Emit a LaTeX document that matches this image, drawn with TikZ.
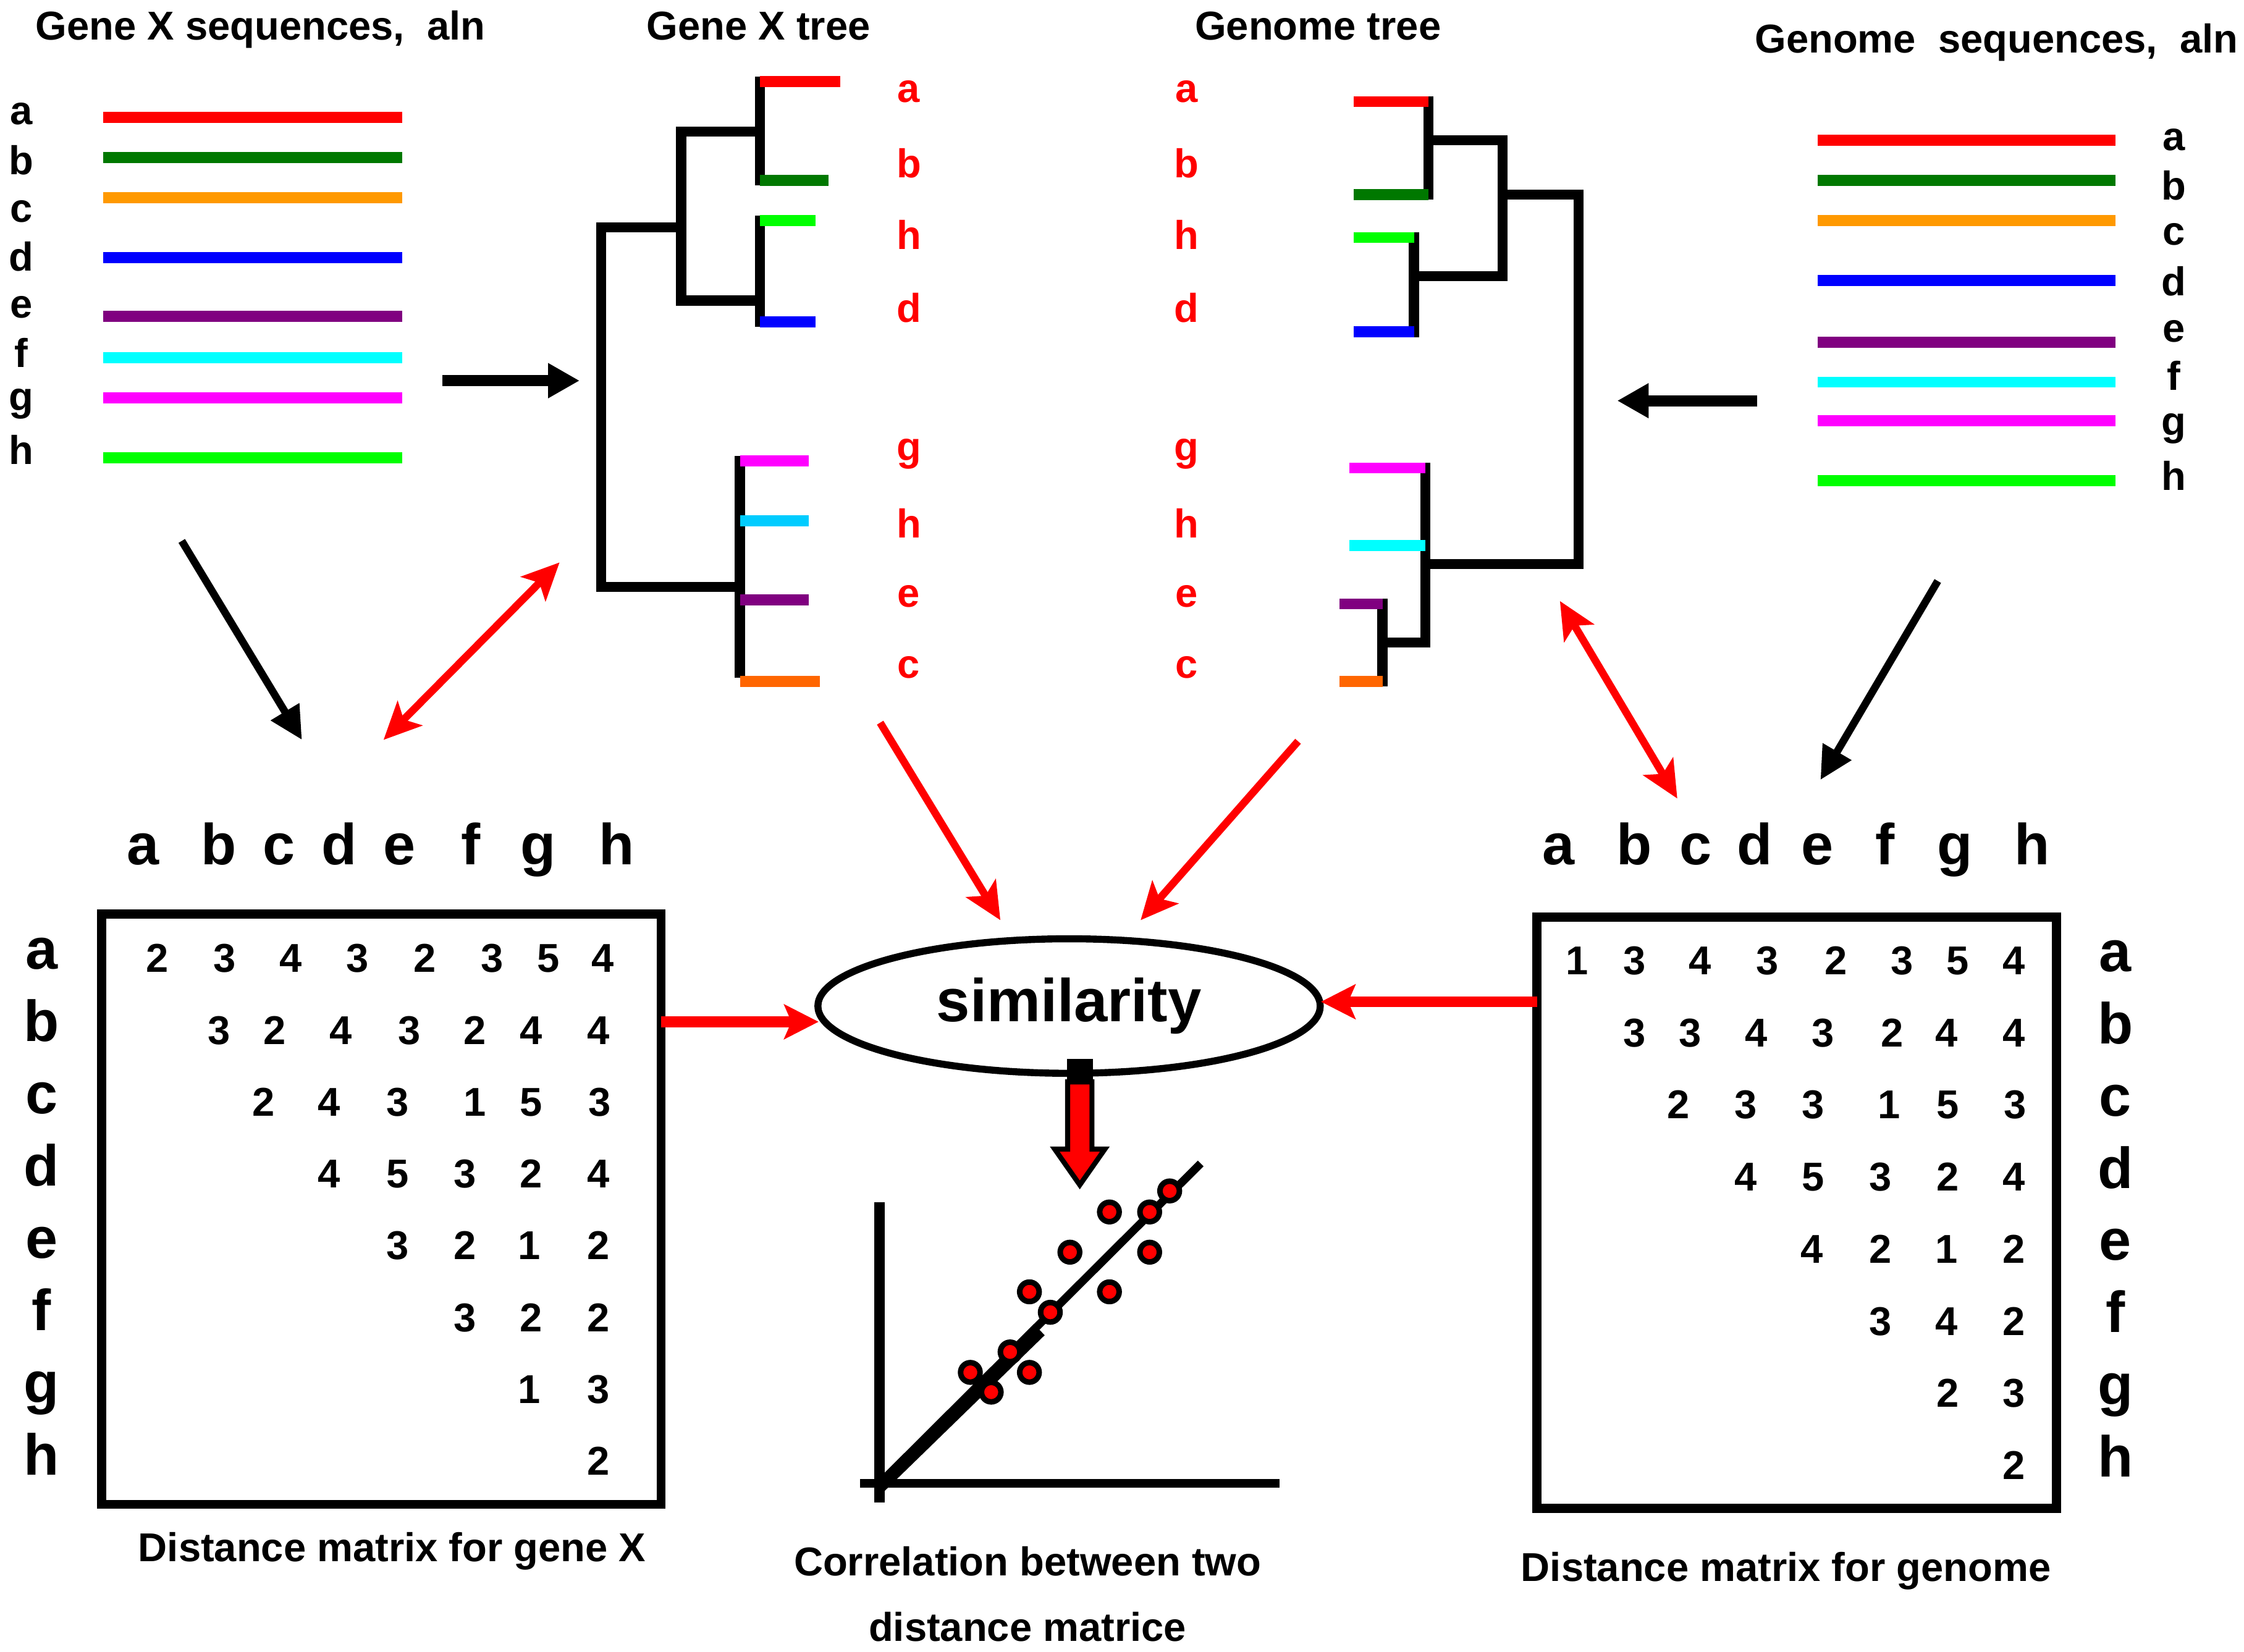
\documentclass[tikz,border=0pt]{standalone}
\usepackage{fontspec}
\setmainfont{Liberation Sans}
\usetikzlibrary{arrows.meta,shapes.geometric}
\definecolor{seqgreen}{RGB}{0,120,0}
\definecolor{seqorange}{RGB}{255,153,0}
\definecolor{seqpurple}{RGB}{128,0,128}
\definecolor{seqlime}{RGB}{0,255,0}
\definecolor{seqcyan}{RGB}{0,255,255}
\definecolor{seqmagenta}{RGB}{255,0,255}
\definecolor{seqblue}{RGB}{0,0,255}
\definecolor{seqred}{RGB}{255,0,0}
\definecolor{treecyan}{RGB}{0,204,255}
\definecolor{treeorange}{RGB}{255,102,0}

\begin{document}
\begin{tikzpicture}[
  ttl/.style={anchor=base, font=\fontsize{8}{9.6}\selectfont\bfseries},
  sq/.style={anchor=base, font=\fontsize{8}{9.6}\selectfont\bfseries},
  tl/.style={anchor=base, text=seqred, font=\fontsize{8}{9.6}\selectfont\bfseries},
  ml/.style={anchor=base, font=\fontsize{11.5}{13.8}\selectfont\bfseries},
  num/.style={anchor=base, font=\fontsize{8}{9.6}\selectfont\bfseries},
  cpt/.style={anchor=base, font=\fontsize{8}{9.6}\selectfont\bfseries},
  seq/.style={line width=2.2pt},
  br/.style={line width=2pt, line cap=rect},
  blk/.style={line width=2.2pt, -{Triangle[length=2.2mm,width=2.3mm]}},
  blkd/.style={line width=1.5pt, -{Triangle[length=2.3mm,width=2.2mm]}},
  rarr/.style={seqred, line width=1.5pt, -{Stealth[length=2.6mm,width=2.4mm,inset=0.6mm]}},
  rdbl/.style={seqred, line width=1.5pt, {Stealth[length=2.6mm,width=2.4mm,inset=0.6mm]}-{Stealth[length=2.6mm,width=2.4mm,inset=0.6mm]}},
  rthk/.style={seqred, line width=2.2pt, -{Stealth[length=2.4mm,width=2.4mm,inset=0.5mm]}},
  box/.style={draw, line width=1.8pt, inner sep=0pt, outer sep=0pt},
  simnode/.style={ellipse, draw, line width=1.4pt, minimum width=3.51cm, minimum height=0.94cm, inner sep=0pt, font=\fontsize{12}{14}\selectfont\bfseries},
  dot/.style={fill=seqred, draw=black, line width=1.1pt}
]
\useasboundingbox (0,0) rectangle (15.68,-11.54);

% titles
\node[ttl] (t1) at (1.82,-0.28) {Gene X sequences,\ \ aln};
\node[ttl] (t2) at (5.30,-0.28) {Gene X tree};
\node[ttl] (t3) at (9.21,-0.28) {Genome tree};
\node[ttl] (t4) at (13.95,-0.37) {Genome\ \ sequences,\ \ aln};

% gene X alignment
\node[sq] (la) at (0.15,-0.87) {a};
\node[sq] (lb) at (0.15,-1.22) {b};
\node[sq] (lc) at (0.15,-1.55) {c};
\node[sq] (ld) at (0.15,-1.895) {d};
\node[sq] (le) at (0.15,-2.22) {e};
\node[sq] (lf) at (0.15,-2.565) {f};
\node[sq] (lg) at (0.15,-2.87) {g};
\node[sq] (lh) at (0.15,-3.245) {h};
\draw[seq, seqred] (0.72,-0.82) -- (2.81,-0.82);
\draw[seq, seqgreen] (0.72,-1.10) -- (2.81,-1.10);
\draw[seq, seqorange] (0.72,-1.38) -- (2.81,-1.38);
\draw[seq, seqblue] (0.72,-1.80) -- (2.81,-1.80);
\draw[seq, seqpurple] (0.72,-2.21) -- (2.81,-2.21);
\draw[seq, seqcyan] (0.72,-2.50) -- (2.81,-2.50);
\draw[seq, seqmagenta] (0.72,-2.78) -- (2.81,-2.78);
\draw[seq, seqlime] (0.72,-3.20) -- (2.81,-3.20);

% genome alignment
\node[sq] (ra) at (15.19,-1.05) {a};
\node[sq] (rb) at (15.19,-1.395) {b};
\node[sq] (rc) at (15.19,-1.71) {c};
\node[sq] (rd) at (15.19,-2.065) {d};
\node[sq] (re) at (15.19,-2.39) {e};
\node[sq] (rf) at (15.19,-2.725) {f};
\node[sq] (rg) at (15.19,-3.04) {g};
\node[sq] (rh) at (15.19,-3.425) {h};
\draw[seq, seqred] (12.70,-0.98) -- (14.78,-0.98);
\draw[seq, seqgreen] (12.70,-1.26) -- (14.78,-1.26);
\draw[seq, seqorange] (12.70,-1.54) -- (14.78,-1.54);
\draw[seq, seqblue] (12.70,-1.96) -- (14.78,-1.96);
\draw[seq, seqpurple] (12.70,-2.39) -- (14.78,-2.39);
\draw[seq, seqcyan] (12.70,-2.67) -- (14.78,-2.67);
\draw[seq, seqmagenta] (12.70,-2.94) -- (14.78,-2.94);
\draw[seq, seqlime] (12.70,-3.36) -- (14.78,-3.36);

% gene X tree
\draw[br] (5.31,-0.57) -- (5.31,-1.26);
\draw[br] (4.76,-0.92) -- (5.31,-0.92);
\draw[br] (5.31,-1.54) -- (5.31,-2.25);
\draw[br] (4.76,-2.10) -- (5.31,-2.10);
\draw[br] (4.76,-0.92) -- (4.76,-2.10);
\draw[br] (4.20,-1.59) -- (4.76,-1.59);
\draw[br] (4.20,-1.59) -- (4.20,-4.10);
\draw[br] (4.20,-4.10) -- (5.17,-4.10);
\draw[br] (5.17,-3.22) -- (5.17,-4.70);
\draw[seq, seqred] (5.31,-0.57) -- (5.87,-0.57);
\draw[seq, seqgreen] (5.31,-1.26) -- (5.79,-1.26);
\draw[seq, seqlime] (5.31,-1.54) -- (5.70,-1.54);
\draw[seq, seqblue] (5.31,-2.25) -- (5.70,-2.25);
\draw[seq, seqmagenta] (5.17,-3.22) -- (5.65,-3.22);
\draw[seq, treecyan] (5.17,-3.64) -- (5.65,-3.64);
\draw[seq, seqpurple] (5.17,-4.19) -- (5.65,-4.19);
\draw[seq, treeorange] (5.17,-4.76) -- (5.73,-4.76);
\node[tl] (ga) at (6.35,-0.713) {a};
\node[tl] (gb) at (6.35,-1.24) {b};
\node[tl] (gh) at (6.35,-1.74) {h};
\node[tl] (gd) at (6.35,-2.25) {d};
\node[tl] (gg) at (6.35,-3.22) {g};
\node[tl] (gh2) at (6.35,-3.76) {h};
\node[tl] (ge) at (6.35,-4.24) {e};
\node[tl] (gc) at (6.35,-4.74) {c};

% genome tree
\draw[br] (9.98,-0.71) -- (9.98,-1.36);
\draw[br] (9.98,-0.98) -- (10.50,-0.98);
\draw[br] (9.88,-1.66) -- (9.88,-2.32);
\draw[br] (9.88,-1.93) -- (10.50,-1.93);
\draw[br] (10.50,-0.98) -- (10.50,-1.93);
\draw[br] (10.50,-1.36) -- (11.03,-1.36);
\draw[br] (11.03,-1.36) -- (11.03,-3.94);
\draw[br] (9.96,-3.94) -- (11.03,-3.94);
\draw[br] (9.96,-3.27) -- (9.96,-4.49);
\draw[br] (9.66,-4.49) -- (9.96,-4.49);
\draw[br] (9.66,-4.22) -- (9.66,-4.76);
\draw[seq, seqred] (9.46,-0.71) -- (9.98,-0.71);
\draw[seq, seqgreen] (9.46,-1.36) -- (9.98,-1.36);
\draw[seq, seqlime] (9.46,-1.66) -- (9.88,-1.66);
\draw[seq, seqblue] (9.46,-2.32) -- (9.88,-2.32);
\draw[seq, seqmagenta] (9.43,-3.27) -- (9.96,-3.27);
\draw[seq, seqcyan] (9.43,-3.81) -- (9.96,-3.81);
\draw[seq, seqpurple] (9.36,-4.22) -- (9.66,-4.22);
\draw[seq, treeorange] (9.36,-4.76) -- (9.66,-4.76);
\node[tl] (ha) at (8.29,-0.713) {a};
\node[tl] (hb) at (8.29,-1.24) {b};
\node[tl] (hh) at (8.29,-1.74) {h};
\node[tl] (hd) at (8.29,-2.25) {d};
\node[tl] (hg) at (8.29,-3.22) {g};
\node[tl] (hh2) at (8.29,-3.76) {h};
\node[tl] (he) at (8.29,-4.24) {e};
\node[tl] (hc) at (8.29,-4.74) {c};

% distance matrix for gene X
\node[box, minimum width=3.91cm, minimum height=4.125cm] (mx) at (2.665,-8.45) {};
\node[ml] (xca) at (1.00,-6.04) {a};
\node[ml] (xcb) at (1.53,-6.04) {b};
\node[ml] (xcc) at (1.95,-6.04) {c};
\node[ml] (xcd) at (2.37,-6.04) {d};
\node[ml] (xce) at (2.79,-6.04) {e};
\node[ml] (xcf) at (3.29,-6.04) {f};
\node[ml] (xcg) at (3.76,-6.04) {g};
\node[ml] (xch) at (4.31,-6.04) {h};
\node[ml] (xra) at (0.29,-6.77) {a};
\node[ml] (xrb) at (0.29,-7.275) {b};
\node[ml] (xrc) at (0.29,-7.78) {c};
\node[ml] (xrd) at (0.29,-8.285) {d};
\node[ml] (xre) at (0.29,-8.79) {e};
\node[ml] (xrf) at (0.29,-9.295) {f};
\node[ml] (xrg) at (0.29,-9.80) {g};
\node[ml] (xrh) at (0.29,-10.305) {h};
\node[num] (xaa) at (1.10,-6.794) {2}; \node[num] (xab) at (1.57,-6.794) {3}; \node[num] (xac) at (2.03,-6.794) {4}; \node[num] (xad) at (2.50,-6.794) {3};
\node[num] (xae) at (2.97,-6.794) {2}; \node[num] (xaf) at (3.44,-6.794) {3}; \node[num] (xag) at (3.83,-6.794) {5}; \node[num] (xah) at (4.21,-6.794) {4};
\node[num] (xbb) at (1.53,-7.296) {3}; \node[num] (xbc) at (1.92,-7.296) {2}; \node[num] (xbd) at (2.38,-7.296) {4}; \node[num] (xbe) at (2.86,-7.296) {3};
\node[num] (xbf) at (3.32,-7.296) {2}; \node[num] (xbg) at (3.71,-7.296) {4}; \node[num] (xbh) at (4.18,-7.296) {4};
\node[num] (xcc2) at (1.84,-7.798) {2}; \node[num] (xcd2) at (2.30,-7.798) {4}; \node[num] (xce2) at (2.78,-7.798) {3};
\node[num] (xcf2) at (3.32,-7.798) {1}; \node[num] (xcg2) at (3.71,-7.798) {5}; \node[num] (xch2) at (4.19,-7.798) {3};
\node[num] (xdd) at (2.30,-8.30) {4}; \node[num] (xde) at (2.78,-8.30) {5}; \node[num] (xdf) at (3.25,-8.30) {3};
\node[num] (xdg) at (3.71,-8.30) {2}; \node[num] (xdh) at (4.18,-8.30) {4};
\node[num] (xee) at (2.78,-8.802) {3}; \node[num] (xef) at (3.25,-8.802) {2}; \node[num] (xeg) at (3.70,-8.802) {1}; \node[num] (xeh) at (4.18,-8.802) {2};
\node[num] (xff) at (3.25,-9.304) {3}; \node[num] (xfg) at (3.71,-9.304) {2}; \node[num] (xfh) at (4.18,-9.304) {2};
\node[num] (xgg) at (3.70,-9.806) {1}; \node[num] (xgh) at (4.18,-9.806) {3};
\node[num] (xhh) at (4.18,-10.308) {2};
\node[cpt] (cx) at (2.74,-10.91) {Distance matrix for gene X};

% distance matrix for genome
\node[box, minimum width=3.63cm, minimum height=4.13cm] (mg) at (12.555,-8.475) {};
\node[ml] (yca) at (10.89,-6.04) {a};
\node[ml] (ycb) at (11.42,-6.04) {b};
\node[ml] (ycc) at (11.85,-6.04) {c};
\node[ml] (ycd) at (12.26,-6.04) {d};
\node[ml] (yce) at (12.70,-6.04) {e};
\node[ml] (ycf) at (13.17,-6.04) {f};
\node[ml] (ycg) at (13.66,-6.04) {g};
\node[ml] (ych) at (14.20,-6.04) {h};
\node[ml] (yra) at (14.78,-6.79) {a};
\node[ml] (yrb) at (14.78,-7.294) {b};
\node[ml] (yrc) at (14.78,-7.798) {c};
\node[ml] (yrd) at (14.78,-8.302) {d};
\node[ml] (yre) at (14.78,-8.806) {e};
\node[ml] (yrf) at (14.78,-9.31) {f};
\node[ml] (yrg) at (14.78,-9.814) {g};
\node[ml] (yrh) at (14.78,-10.318) {h};
\node[num] (yaa) at (11.02,-6.81) {1}; \node[num] (yab) at (11.42,-6.81) {3}; \node[num] (yac) at (11.88,-6.81) {4}; \node[num] (yad) at (12.35,-6.81) {3};
\node[num] (yae) at (12.83,-6.81) {2}; \node[num] (yaf) at (13.29,-6.81) {3}; \node[num] (yag) at (13.68,-6.81) {5}; \node[num] (yah) at (14.07,-6.81) {4};
\node[num] (ybb) at (11.42,-7.314) {3}; \node[num] (ybc) at (11.81,-7.314) {3}; \node[num] (ybd) at (12.27,-7.314) {4}; \node[num] (ybe) at (12.74,-7.314) {3};
\node[num] (ybf) at (13.22,-7.314) {2}; \node[num] (ybg) at (13.60,-7.314) {4}; \node[num] (ybh) at (14.07,-7.314) {4};
\node[num] (ycc2) at (11.73,-7.818) {2}; \node[num] (ycd2) at (12.20,-7.818) {3}; \node[num] (yce2) at (12.67,-7.818) {3};
\node[num] (ycf2) at (13.20,-7.818) {1}; \node[num] (ycg2) at (13.61,-7.818) {5}; \node[num] (ych2) at (14.08,-7.818) {3};
\node[num] (ydd) at (12.20,-8.322) {4}; \node[num] (yde) at (12.67,-8.322) {5}; \node[num] (ydf) at (13.14,-8.322) {3};
\node[num] (ydg) at (13.61,-8.322) {2}; \node[num] (ydh) at (14.07,-8.322) {4};
\node[num] (yee) at (12.66,-8.826) {4}; \node[num] (yef) at (13.14,-8.826) {2}; \node[num] (yeg) at (13.60,-8.826) {1}; \node[num] (yeh) at (14.07,-8.826) {2};
\node[num] (yff) at (13.14,-9.33) {3}; \node[num] (yfg) at (13.60,-9.33) {4}; \node[num] (yfh) at (14.07,-9.33) {2};
\node[num] (ygg) at (13.61,-9.834) {2}; \node[num] (ygh) at (14.07,-9.834) {3};
\node[num] (yhh) at (14.07,-10.338) {2};
\node[cpt] (cg) at (12.48,-11.05) {Distance matrix for genome};

% similarity and correlation plot
\node[simnode] (sim) at (7.47,-7.03) {similarity};
\coordinate (d1) at (7.545,-7.40);
\fill (d1) ++(-0.09,0) rectangle ++(0.18,-0.17);
\filldraw[fill=seqred, draw=black, line width=1pt] (d1) ++(-0.085,-0.16) -- ++(0.17,0) -- ++(0,-0.47)
  -- ++(0.09,0) -- ++(-0.175,-0.25) -- ++(-0.175,0.25) -- ++(0.09,0) -- cycle;
\draw[line width=2.1pt] (6.146,-8.40) -- (6.146,-10.50);
\draw[line width=1.8pt] (6.01,-10.366) -- (8.94,-10.366);
\draw[line width=1.6pt] (6.146,-10.366) -- (8.39,-8.13);
\draw[line width=1.6pt] (6.16,-10.40) -- (7.28,-9.31);
\filldraw[dot] (8.173,-8.322) circle (0.068);
\filldraw[dot] (7.752,-8.469) circle (0.068);
\filldraw[dot] (8.033,-8.469) circle (0.068);
\filldraw[dot] (7.476,-8.750) circle (0.068);
\filldraw[dot] (8.033,-8.750) circle (0.068);
\filldraw[dot] (7.193,-9.027) circle (0.068);
\filldraw[dot] (7.752,-9.027) circle (0.068);
\filldraw[dot] (7.339,-9.170) circle (0.068);
\filldraw[dot] (7.058,-9.447) circle (0.068);
\filldraw[dot] (6.780,-9.590) circle (0.068);
\filldraw[dot] (7.193,-9.590) circle (0.068);
\filldraw[dot] (6.926,-9.728) circle (0.068);
\node[cpt] (cc1) at (7.18,-11.01) {Correlation between two};
\node[cpt] (cc2) at (7.18,-11.47) {distance matrice};

% arrows
\coordinate (p1) at (3.09,-2.66);
\coordinate (p2) at (4.05,-2.66);
\coordinate (p3) at (12.28,-2.80);
\coordinate (p4) at (11.30,-2.80);
\coordinate (p5) at (1.27,-3.78);
\coordinate (p6) at (2.11,-5.17);
\coordinate (p7) at (13.54,-4.06);
\coordinate (p8) at (12.72,-5.45);
\coordinate (p9) at (2.68,-5.17);
\coordinate (p10) at (3.91,-3.93);
\coordinate (p11) at (10.90,-4.20);
\coordinate (p12) at (11.72,-5.58);
\coordinate (p13) at (6.15,-5.05);
\coordinate (p14) at (6.99,-6.43);
\coordinate (p15) at (9.07,-5.18);
\coordinate (p16) at (7.97,-6.43);
\coordinate (p17) at (5.72,-7.14);
\coordinate (p18) at (9.23,-7.00);
\draw[blk] (p1) -- (p2);
\draw[blk] (p3) -- (p4);
\draw[blkd] (p5) -- (p6);
\draw[blkd] (p7) -- (p8);
\draw[rdbl] (p9) -- (p10);
\draw[rdbl] (p11) -- (p12);
\draw[rarr] (p13) -- (p14);
\draw[rarr] (p15) -- (p16);
\draw[rthk] (mx.east |- p17) -- (p17);
\draw[rthk] (mg.west |- p18) -- (p18);

\end{tikzpicture}
\end{document}
